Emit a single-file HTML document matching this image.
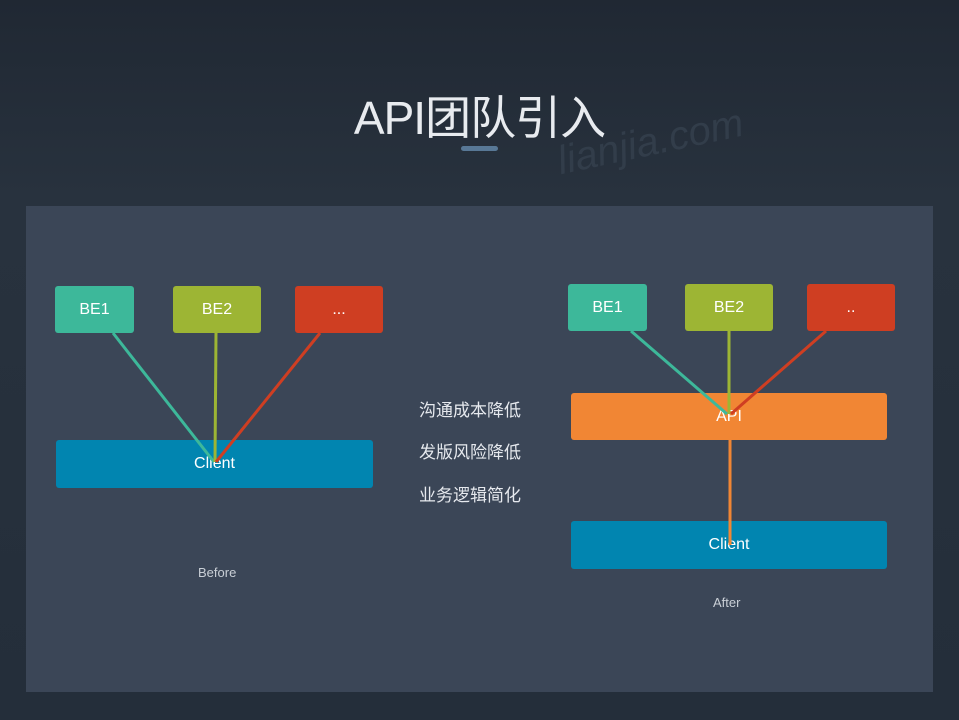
<!DOCTYPE html>
<html><head><meta charset="utf-8"><style>
body{margin:0;width:959px;height:720px;overflow:hidden;background:#242e3a;font-family:"Liberation Sans","Noto Sans CJK SC",sans-serif;position:relative}
.a{position:absolute}
.b{position:absolute;border-radius:3px;color:#fff;font-size:16px;display:flex;align-items:center;justify-content:center}
.t{position:absolute;color:#e6e9ee;font-size:17px}
</style></head><body>
<div class="a" style="left:0;top:0;width:959px;height:720px;background:linear-gradient(#202833,#28323e 200px,#242e3a)"></div>
<div class="a" style="left:0;top:82px;width:959px;text-align:center;font-size:46px;color:#e8ebef;letter-spacing:-1px">API团队引入</div>
<div class="a" style="left:461px;top:146px;width:37px;height:5px;background:#587896;border-radius:3px"></div>
<div class="a" style="left:556px;top:120px;font-size:40px;color:#323d4a;transform:rotate(-12deg);font-style:italic">lianjia.com</div>
<div class="a" style="left:26px;top:206px;width:907px;height:486px;background:#3b4657"></div>
<div class="b" style="left:55px;top:286px;width:79px;height:47px;background:#3db89a">BE1</div>
<div class="b" style="left:173px;top:286px;width:88px;height:47px;background:#9db534">BE2</div>
<div class="b" style="left:295px;top:286px;width:88px;height:47px;background:#cf3e22">...</div>
<div class="b" style="left:56px;top:440px;width:317px;height:48px;background:#0185b0">Client</div>
<div class="b" style="left:568px;top:284px;width:79px;height:47px;background:#3db89a">BE1</div>
<div class="b" style="left:685px;top:284px;width:88px;height:47px;background:#9db534">BE2</div>
<div class="b" style="left:807px;top:284px;width:88px;height:47px;background:#cf3e22">..</div>
<div class="b" style="left:571px;top:393px;width:316px;height:47px;background:#f18634">API</div>
<div class="b" style="left:571px;top:521px;width:316px;height:48px;background:#0185b0">Client</div>
<svg class="a" style="left:0;top:0" width="959" height="720">
<line x1="113" y1="333" x2="214" y2="462" stroke="#3db89a" stroke-width="3"/>
<line x1="216" y1="333" x2="215" y2="462" stroke="#9db534" stroke-width="3"/>
<line x1="320" y1="333" x2="216" y2="462" stroke="#cf3e22" stroke-width="3"/>
<line x1="631" y1="331" x2="727" y2="414" stroke="#3db89a" stroke-width="3"/>
<line x1="729" y1="331" x2="729" y2="414" stroke="#9db534" stroke-width="3"/>
<line x1="826" y1="331" x2="731" y2="414" stroke="#cf3e22" stroke-width="3"/>
<line x1="730" y1="440" x2="730" y2="545" stroke="#f18634" stroke-width="3"/>
</svg>
<div class="t" style="left:419px;top:396px">沟通成本降低</div>
<div class="t" style="left:419px;top:438px">发版风险降低</div>
<div class="t" style="left:419px;top:481px">业务逻辑简化</div>
<div class="a" style="left:198px;top:565px;font-size:13px;color:#c9cfd6">Before</div>
<div class="a" style="left:713px;top:595px;font-size:13px;color:#c9cfd6">After</div>
</body></html>
